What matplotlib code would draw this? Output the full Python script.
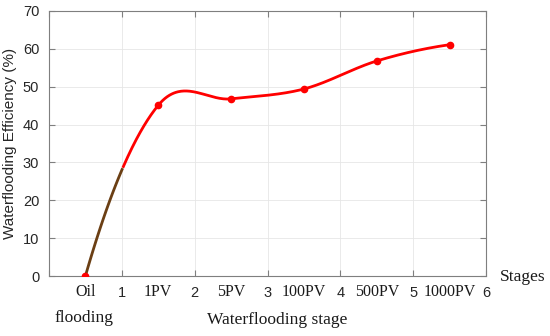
import numpy as np
import matplotlib
matplotlib.use("Agg")
import matplotlib.pyplot as plt
from matplotlib.transforms import blended_transform_factory

# Data
stage_pos = [0.5, 1.5, 2.5, 3.5, 4.5, 5.5]
stage_labels = ["Oil", "1PV", "5PV", "100PV", "500PV", "1000PV"]
efficiency = [0.0, 45.1, 46.8, 49.4, 56.8, 61.1]
num_ticks = [0, 1, 2, 3, 4, 5, 6]
num_labels = ["", "1", "2", "3", "4", "5", "6"]
y_ticks = [0, 10, 20, 30, 40, 50, 60, 70]


def smooth_curve(x, y, xs):
    """Cubic Hermite curve with Catmull-Rom style tangents."""
    x = np.asarray(x, float); y = np.asarray(y, float)
    n = len(x)
    m = np.diff(y) / np.diff(x)
    t = np.zeros(n)
    for i in range(1, n - 1):
        t[i] = (y[i + 1] - y[i - 1]) / (x[i + 1] - x[i - 1])
    t[0] = 2 * m[0] - t[1]
    t[-1] = 2 * m[-1] - t[-2]
    out = np.empty_like(xs)
    for k, xv in enumerate(xs):
        i = min(max(np.searchsorted(x, xv) - 1, 0), n - 2)
        h = x[i + 1] - x[i]
        s = (xv - x[i]) / h
        h00 = 2 * s**3 - 3 * s**2 + 1
        h10 = s**3 - 2 * s**2 + s
        h01 = -2 * s**3 + 3 * s**2
        h11 = s**3 - s**2
        out[k] = h00 * y[i] + h10 * h * t[i] + h01 * y[i + 1] + h11 * h * t[i + 1]
    return out


fig = plt.figure(figsize=(5.5, 3.36), dpi=100)
ax = fig.add_axes([49 / 550, 60 / 336, 437 / 550, 265 / 336])

xs = np.linspace(stage_pos[0], stage_pos[-1], 500)
ys = smooth_curve(stage_pos, efficiency, xs)
mask = xs <= 1.02
ax.plot(xs[~mask], ys[~mask], color="#ff0000", lw=2, zorder=3)
ax.plot(xs[mask], ys[mask], color="#6b3f14", lw=2, zorder=4, solid_capstyle="butt")
ax.plot(stage_pos, efficiency, "o", color="#ff0000", ms=4.5, zorder=5)

ax.set_xlim(0, 6)
ax.set_ylim(0, 70)
ax.set_xticks(num_ticks)
ax.set_xticklabels(num_labels, fontfamily="Liberation Sans", fontsize=10.5)
ax.set_yticks(y_ticks)
ax.set_yticklabels([str(v) for v in y_ticks], fontfamily="Liberation Sans", fontsize=10.5)
ax.grid(True, color="#e6e6e6", lw=0.6)
ax.set_axisbelow(True)
ax.tick_params(direction="in", top=True, right=True, color="#7f7f7f",
               labelcolor="#262626", length=4, pad=7)
for s in ax.spines.values():
    s.set_color("#7f7f7f")
    s.set_linewidth(0.8)

ax.set_ylabel("Waterflooding Efficiency (%)", fontfamily="Liberation Sans",
              fontsize=11, color="#262626", labelpad=4)

trans = blended_transform_factory(ax.transData, fig.transFigure)
for xp, lab in zip(stage_pos, stage_labels):
    ax.text(xp, 1 - 292 / 336, lab, transform=trans, ha="center", va="center",
            fontfamily="Liberation Serif", fontsize=11.5, color="#1a1a1a")
fig.text(84 / 550, 1 - 318 / 336, "flooding", ha="center", va="center",
         fontfamily="Liberation Serif", fontsize=12.5, color="#1a1a1a")
fig.text(277 / 550, 1 - 320 / 336, "Waterflooding stage", ha="center", va="center",
         fontfamily="Liberation Serif", fontsize=12.5, color="#1a1a1a")
fig.text(523 / 550, 1 - 277 / 336, "Stages", ha="center", va="center",
         fontfamily="Liberation Serif", fontsize=12.5, color="#1a1a1a")

fig.savefig("out.png", dpi=100)
